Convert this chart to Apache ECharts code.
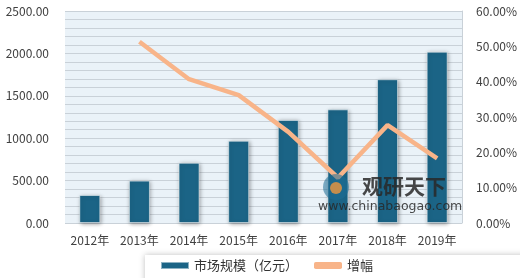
<!DOCTYPE html>
<html><head><meta charset="utf-8">
<script src="https://cdn.jsdelivr.net/npm/echarts@6/dist/echarts.min.js"></script>
<style>html,body{margin:0;padding:0;background:#fff}#c{width:520px;height:278px}</style>
</head><body><div id="c"></div>
<script>
const categories = ['2012年','2013年','2014年','2015年','2016年','2017年','2018年','2019年'];
const marketSize = [330, 500, 710, 970, 1215, 1340, 1695, 2020];
const growth = [null, 0.513, 0.407, 0.362, 0.258, 0.128, 0.277, 0.183];
const barName = '市场规模（亿元）';
const lineName = '增幅';

const chart = echarts.init(document.getElementById('c'));
const font = '"Noto Sans CJK SC","Open Sans",sans-serif';
chart.setOption({
  animation: false,
  textStyle: {fontFamily: font},
  grid: {left: 65, right: 57, top: 11, bottom: 55, show: true, backgroundColor: '#eaf2f8', borderWidth: 0},
  legend: {
    left: 160, top: 259, itemGap: 16, padding: 0, z: 20,
    textStyle: {fontSize: 13, color: '#333', fontFamily: font},
    data: [
      {name: barName, icon: 'rect'},
      {name: lineName, icon: 'roundRect', itemStyle: {color: '#f8b489'}}
    ],
    itemWidth: 28, itemHeight: 7
  },
  xAxis: {
    type: 'category', data: categories,
    axisLine: {show: false}, axisTick: {show: false},
    axisLabel: {color: '#404040', fontSize: 12, margin: 11, interval: 0}
  },
  yAxis: [{
    type: 'value', min: 0, max: 2500, interval: 500,
    axisLabel: {color: '#404040', fontSize: 12, margin: 16, formatter: v => v.toFixed(2)},
    axisLine: {show: false}, axisTick: {show: false},
    splitLine: {lineStyle: {color: '#c9d1d8', width: 1}},
    minorTick: {show: false, splitNumber: 5},
    minorSplitLine: {show: true, lineStyle: {color: '#c9d1d8', width: 1}}
  }, {
    type: 'value', min: 0, max: 0.6, interval: 0.1, position: 'right',
    axisLabel: {color: '#404040', fontSize: 12, margin: 14, formatter: v => (v * 100).toFixed(2) + '%'},
    axisLine: {show: true, lineStyle: {color: '#c9d1d8'}},
    axisTick: {show: false},
    splitLine: {show: false}
  }],
  graphic: [
    {type: 'rect', z: 1, shape: {x: 145, y: 255, width: 400, height: 40}, style: {fill: '#fff', shadowBlur: 6, shadowColor: 'rgba(0,0,0,0.25)'}},
    {type: 'circle', z: 30, shape: {cx: 336, cy: 187, r: 13}, style: {fill: 'rgba(30,110,150,0.55)'}},
    {type: 'circle', z: 30, shape: {cx: 336, cy: 188, r: 6}, style: {fill: 'rgba(240,150,60,0.8)'}},
    {type: 'text', z: 30, left: 362, top: 176, style: {text: '观研天下', fontSize: 21, fontWeight: 'bold', fill: 'rgba(40,40,40,0.85)', fontFamily: font}},
    {type: 'text', z: 30, left: 318, top: 200, style: {text: 'www.chinabaogao.com', fontSize: 12.5, fill: 'rgba(40,40,40,0.85)', fontFamily: '"DejaVu Sans",sans-serif'}}
  ],
  series: [{
    name: barName, type: 'bar', data: marketSize, barWidth: 21, yAxisIndex: 0,
    itemStyle: {color: '#1b6486', borderColor: 'rgba(255,255,255,0.5)', borderWidth: 1, shadowBlur: 4, shadowColor: 'rgba(0,0,0,0.35)', shadowOffsetX: 1, shadowOffsetY: 1}
  }, {
    name: lineName, type: 'line', data: growth, yAxisIndex: 1,
    symbol: 'none', lineStyle: {color: '#f8b489', width: 4.5}, itemStyle: {color: '#f8b489'}
  }]
});
</script></body></html>
